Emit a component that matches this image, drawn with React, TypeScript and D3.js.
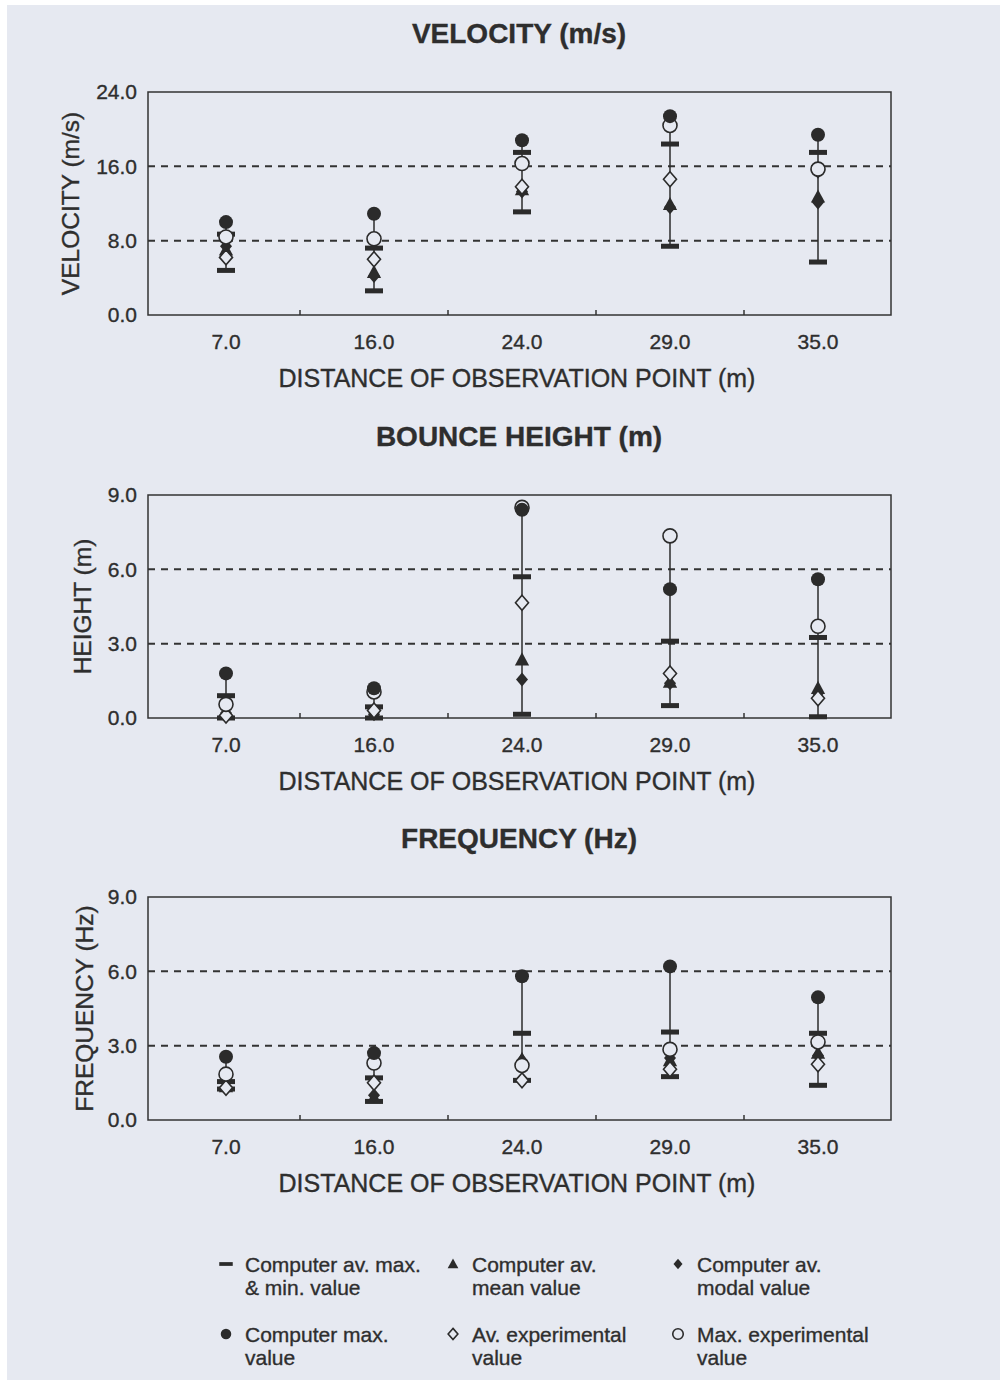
import React from "react";
import * as d3 from "d3";

const categories = ["7.0", "16.0", "24.0", "29.0", "35.0"];

// Velocity (m/s)
const velMinBar = [4.8, 2.6, 11.1, 7.4, 5.7];
const velMaxBar = [8.7, 7.2, 17.5, 18.4, 17.5];
const velMean = [7.0, 4.6, 13.5, 11.9, 12.7];
const velModal = [7.4, 4.2, 13.3, 11.6, 12.1];
const velCompMax = [10.0, 10.9, 18.8, 21.4, 19.4];
const velAvExp = [6.2, 6.0, 13.8, 14.6, 15.6];
const velMaxExp = [8.4, 8.2, 16.3, 20.4, 15.7];
const velTicks = [0, 8, 16, 24];

// Bounce height (m)
const hMinBar = [0.0, 0.0, 0.15, 0.5, 0.05];
const hMaxBar = [0.9, 0.45, 5.7, 3.1, 3.25];
const hMean = [0.2, 0.2, 2.35, 1.45, 1.2];
const hModal = [0.2, 0.15, 1.55, 1.4, 1.0];
const hCompMax = [1.8, 1.2, 8.4, 5.2, 5.6];
const hAvExp = [0.1, 0.3, 4.65, 1.8, 0.8];
const hMaxExp = [0.55, 1.05, 8.5, 7.35, 3.7];
const hTicks = [0, 3, 6, 9];

// Frequency (Hz)
const fMinBar = [1.25, 0.75, 1.6, 1.75, 1.4];
const fMaxBar = [1.55, 1.7, 3.5, 3.55, 3.5];
const fMean = [1.35, 0.9, 2.45, 2.4, 2.7];
const fModal = [1.3, 1.0, 2.4, 2.5, 2.6];
const fCompMax = [2.55, 2.7, 5.8, 6.2, 4.95];
const fAvExp = [1.3, 1.5, 1.6, 2.05, 2.25];
const fMaxExp = [1.85, 2.3, 2.2, 2.85, 3.15];
const fTicks = [0, 3, 6, 9];

const legendItems = [
  ["Computer av. max.", "& min. value"],
  ["Computer av.", "mean value"],
  ["Computer av.", "modal value"],
  ["Computer max.", "value"],
  ["Av. experimental", "value"],
  ["Max. experimental", "value"],
];

const BG = "#e6e9f1";
const INK = "#2b2b2b";
const TXT = "#2e2e2e";
const FONT = "'Liberation Sans', Arial, sans-serif";

const triPath = (cx: number, cy: number, s: number) =>
  `M${cx},${cy - s}L${cx + s * 0.95},${cy + s * 0.75}L${cx - s * 0.95},${cy + s * 0.75}Z`;
const diaPath = (cx: number, cy: number, w: number, h: number) =>
  `M${cx},${cy - h}L${cx + w},${cy}L${cx},${cy + h}L${cx - w},${cy}Z`;

function Marker({ type, x, y, legend = false }: any) {
  const k = legend ? 0.75 : 1;
  switch (type) {
    case "bar":
      return <rect x={x - 9 * k} y={y - 2.5 * k} width={18 * k} height={5 * k} fill={INK} />;
    case "tri":
      return <path d={triPath(x, y, 7.5 * k)} fill={INK} />;
    case "modal":
      return <path d={diaPath(x, y, 6 * k, 7 * k)} fill={INK} />;
    case "cmax":
      return <circle cx={x} cy={y} r={7 * k} fill={INK} />;
    case "avexp":
      return <path d={diaPath(x, y, 6.5 * k, 7.5 * k)} fill={BG} stroke={INK} strokeWidth={1.6} />;
    case "maxexp":
      return <circle cx={x} cy={y} r={7 * k} fill={BG} stroke={INK} strokeWidth={1.6} />;
  }
  return null;
}

const txtProps = { fill: TXT, fontFamily: FONT, stroke: TXT, strokeWidth: 0.35 };

function Panel({ top, title, ylabel, ylabelX, ticks, ymax, data }: any) {
  const left = 148;
  const right = 891;
  const height = 223;
  const bottom = top + height;
  const x = d3.scaleBand().domain(categories).range([152, 892]).paddingInner(0).paddingOuter(0);
  const y = d3.scaleLinear().domain([0, ymax]).range([bottom, top]);
  const bw = x.bandwidth();
  const cx = (c: string) => (x(c) as number) + bw / 2;
  const midX = 517;
  return (
    <g>
      <text x={519} y={top - 49} textAnchor="middle" fontSize={28} fontWeight="bold" {...txtProps}>
        {title}
      </text>
      {ticks.slice(1, -1).map((t: number) => (
        <line key={t} x1={left} x2={right} y1={y(t)} y2={y(t)} stroke="#333" strokeWidth={2} strokeDasharray="7,6" />
      ))}
      <rect x={left} y={top} width={right - left} height={height} fill="none" stroke="#333" strokeWidth={1.5} />
      {ticks.map((t: number) => (
        <text key={t} x={137} y={y(t)} dy="0.35em" textAnchor="end" fontSize={21} {...txtProps}>
          {t.toFixed(1)}
        </text>
      ))}
      {categories.slice(1).map((c) => (
        <line key={c} x1={x(c)} x2={x(c)} y1={bottom} y2={bottom - 5} stroke="#333" strokeWidth={1.5} />
      ))}
      {categories.map((c) => (
        <text key={c} x={cx(c)} y={bottom + 34} textAnchor="middle" fontSize={21} {...txtProps}>
          {c}
        </text>
      ))}
      <text x={midX} y={bottom + 72} textAnchor="middle" fontSize={25} {...txtProps}>
        DISTANCE OF OBSERVATION POINT (m)
      </text>
      <text
        transform={`translate(${ylabelX},${top + height / 2}) rotate(-90)`}
        textAnchor="middle"
        dy="0.35em"
        fontSize={24.5}
        {...txtProps}
      >
        {ylabel}
      </text>
      {categories.map((c, i) => {
        const vals = [data.minBar[i], data.maxBar[i], data.mean[i], data.modal[i], data.cmax[i], data.avexp[i], data.maxexp[i]];
        const lo = d3.min(vals) as number;
        const hi = d3.max(vals) as number;
        const px = cx(c);
        return (
          <g key={c}>
            <line x1={px} x2={px} y1={y(lo)} y2={y(hi)} stroke={INK} strokeWidth={1.5} />
            <Marker type="bar" x={px} y={y(data.minBar[i])} />
            <Marker type="bar" x={px} y={y(data.maxBar[i])} />
            <Marker type="tri" x={px} y={y(data.mean[i])} />
            <Marker type="modal" x={px} y={y(data.modal[i])} />
            <Marker type="avexp" x={px} y={y(data.avexp[i])} />
            <Marker type="maxexp" x={px} y={y(data.maxexp[i])} />
            <Marker type="cmax" x={px} y={y(data.cmax[i])} />
          </g>
        );
      })}
    </g>
  );
}

export default function App() {
  const legendTypes = ["bar", "tri", "modal", "cmax", "avexp", "maxexp"];
  const colMarkerX = [226, 453, 678];
  const rowY = [1272, 1342];
  return (
    <svg
      width={1000}
      height={1382}
      style={{ position: "absolute", left: 0, top: 0, display: "block" }}
      fontFamily={FONT}
    >
      <rect x={0} y={0} width={1000} height={1382} fill="#ffffff" />
      <rect x={7} y={5} width={993} height={1375} fill={BG} />
      <Panel
        top={92}
        title="VELOCITY (m/s)"
        ylabel="VELOCITY (m/s)"
        ylabelX={70}
        ticks={velTicks}
        ymax={24}
        data={{ minBar: velMinBar, maxBar: velMaxBar, mean: velMean, modal: velModal, cmax: velCompMax, avexp: velAvExp, maxexp: velMaxExp }}
      />
      <Panel
        top={495}
        title="BOUNCE HEIGHT (m)"
        ylabel="HEIGHT (m)"
        ylabelX={82}
        ticks={hTicks}
        ymax={9}
        data={{ minBar: hMinBar, maxBar: hMaxBar, mean: hMean, modal: hModal, cmax: hCompMax, avexp: hAvExp, maxexp: hMaxExp }}
      />
      <Panel
        top={897}
        title="FREQUENCY (Hz)"
        ylabel="FREQUENCY (Hz)"
        ylabelX={84}
        ticks={fTicks}
        ymax={9}
        data={{ minBar: fMinBar, maxBar: fMaxBar, mean: fMean, modal: fModal, cmax: fCompMax, avexp: fAvExp, maxexp: fMaxExp }}
      />
      {legendItems.map((lines, i) => {
        const col = i % 3;
        const row = Math.floor(i / 3);
        const mx = colMarkerX[col];
        const my = rowY[row] - 8;
        return (
          <g key={i}>
            <Marker type={legendTypes[i]} x={mx} y={my} legend={true} />
            {lines.map((l, j) => (
              <text key={j} x={mx + 19} y={rowY[row] + j * 23} fontSize={21} {...txtProps}>
                {l}
              </text>
            ))}
          </g>
        );
      })}
    </svg>
  );
}
